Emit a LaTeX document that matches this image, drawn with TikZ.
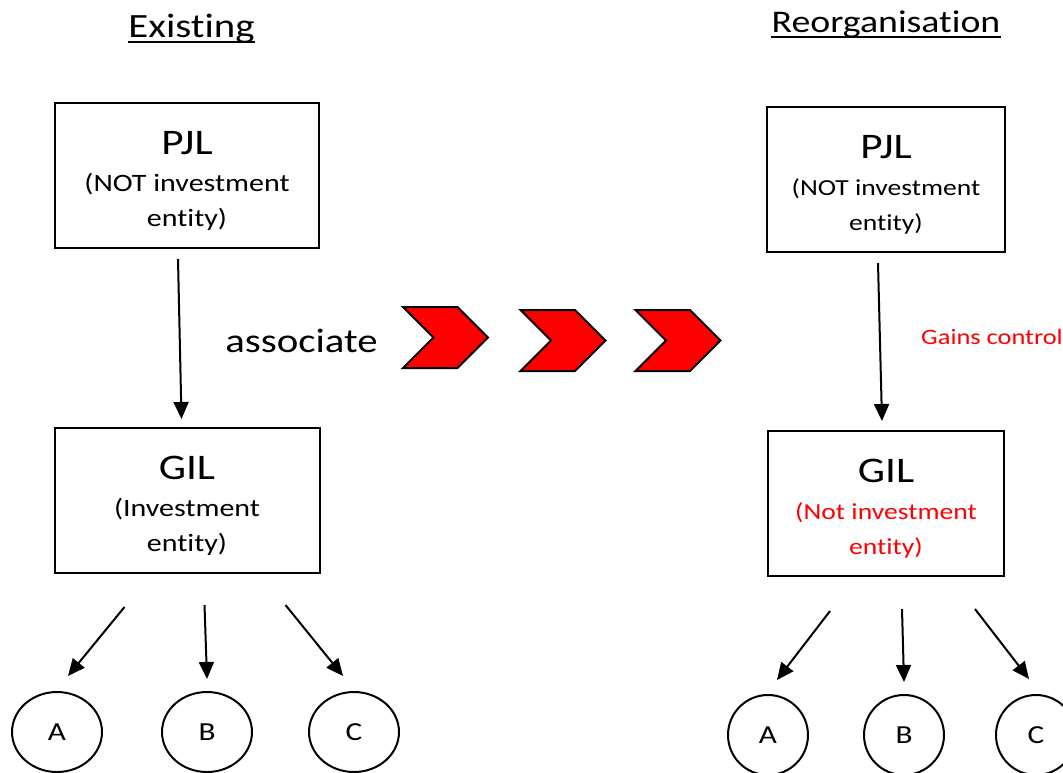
\documentclass[tikz,border=0pt]{standalone}
\usepackage{fontspec}
\setmainfont{Carlito}[FakeStretch=1.2,Ligatures={NoCommon}]
\usetikzlibrary{shapes,positioning,arrows.meta,calc}
\newcommand{\entname}[1]{{\fontsize{36}{36}\selectfont\rule{0pt}{34pt}#1}}

\begin{document}
\begin{tikzpicture}[x=1pt,y=-1pt,
            entity/.style={rectangle, draw, line width=2pt, align=center,
                inner sep=0pt, minimum height=145pt,
                font=\fontsize{25}{35}\selectfont},
            leaf/.style={ellipse, draw, line width=2pt, inner sep=0pt,
                minimum height=80pt, font=\fontsize{26}{26}\selectfont},
            chev/.style={signal, signal from=west, signal to=east, draw,
                fill=red, line width=2pt, inner sep=0pt,
                minimum width=85pt, minimum height=61pt},
            link/.style={-{Triangle[length=17pt,width=15pt]}, line width=2pt},
            title/.style={inner sep=0pt, font=\fontsize{34}{34}\selectfont},
            uline/.style={line width=2.4pt}]

            \useasboundingbox (0,0) rectangle (1063,772);
            \clip (0,0) rectangle (1063,772);

            \node [title, anchor=base] (t0) at (191.5,37) {Existing};
            \draw [uline] ([yshift=-5pt]t0.base west) -- ([yshift=-5pt]t0.base east);

            \node [entity, minimum width=264pt] (p0) at (187,175.5) {
            \entname{PJL}\\[2pt](NOT investment\\entity)};
            \node [entity, minimum width=265pt, below=178pt of p0] (g0) {
            \entname{GIL}\\[2pt](Investment\\entity)};

            \node [leaf, minimum width=90pt] (a0) at (57,732) {A};
            \node [leaf, minimum width=90pt, right=58pt of a0] (b0) {B};
            \node [leaf, minimum width=90pt, right=55pt of b0] (c0) {C};

            \draw [link] ([xshift=-9pt,yshift=-10pt]p0.south) -- ([xshift=-5.5pt,yshift=8pt]g0.north);
            \draw [link] ([xshift=-62.5pt,yshift=-33pt]g0.south) -- ([xshift=11pt,yshift=15pt]a0.north);
            \draw [link] ([xshift=17.5pt,yshift=-31pt]g0.south) -- ([yshift=12pt]b0.north);
            \draw [link] ([xshift=98.5pt,yshift=-31pt]g0.south) -- ([xshift=-11pt,yshift=15pt]c0.north);

            \node [anchor=base, inner sep=0pt, font=\fontsize{34}{34}\selectfont] (as) at (301.5,352) {associate};

            \node [chev] (ch0) at (445.5,337.5) {};
            \node [chev] (ch1) at (563,340.5) {};
            \node [chev] (ch2) at (678,340.5) {};

            \node [title, anchor=base, font=\fontsize{31.5}{32}\selectfont] (t1) at (886,32) {Reorganisation};
            \draw [uline] ([yshift=-5pt]t1.base west) -- ([yshift=-5pt]t1.base east);

            \node [entity, minimum width=238pt, font=\fontsize{23}{35}\selectfont] (p1) at (886,179.5) {
            \entname{PJL}\\[2pt](NOT investment\\entity)};
            \node [entity, minimum width=236pt, font=\fontsize{23}{35}\selectfont,
                below=177pt of p1] (g1) {
            \entname{GIL}\\[2pt]\textcolor{red}{(Not investment}\\\textcolor{red}{entity)}};

            \node [leaf, minimum width=80pt] (a1) at (768,735) {A};
            \node [leaf, minimum width=80pt, right=54pt of a1] (b1) {B};
            \node [leaf, minimum width=80pt, right=50pt of b1] (c1) {C};

            \draw [link] ([xshift=-8pt,yshift=-10pt]p1.south) -- ([xshift=-4pt,yshift=9pt]g1.north);
            \draw [link] ([xshift=-56pt,yshift=-34pt]g1.south) -- ([xshift=9pt,yshift=14pt]a1.north);
            \draw [link] ([xshift=16pt,yshift=-32pt]g1.south) -- ([yshift=12pt]b1.north);
            \draw [link] ([xshift=89pt,yshift=-32pt]g1.south) -- ([xshift=-7pt,yshift=15pt]c1.north);

            \node [anchor=base west, inner sep=0pt, text=red, font=\fontsize{22}{22}\selectfont] (gc) at (921,344) {Gains control};

        \end{tikzpicture}
\end{document}
